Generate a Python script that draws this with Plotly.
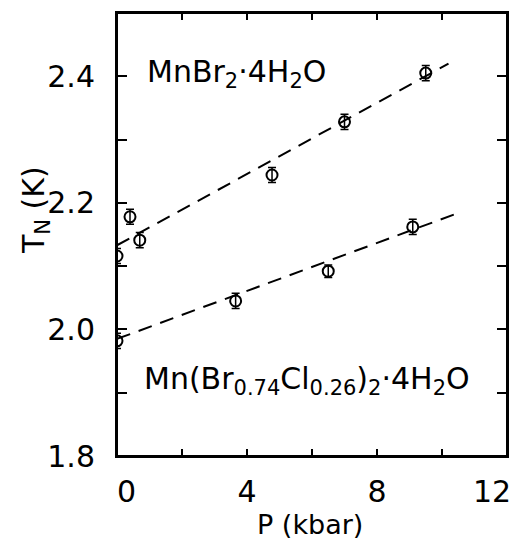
import plotly.graph_objects as go

# Data
p_mnbr = [0.0, 0.4, 0.7, 4.77, 7.0, 9.5]
t_mnbr = [2.116, 2.178, 2.141, 2.244, 2.328, 2.405]
err_mnbr = [0.012, 0.012, 0.012, 0.012, 0.012, 0.012]

p_mix = [0.0, 3.65, 6.5, 9.1]
t_mix = [1.982, 2.045, 2.092, 2.162]
err_mix = [0.012, 0.012, 0.010, 0.012]

fit_mnbr_p = [0.0, 10.2]
fit_mnbr_t = [2.133, 2.420]
fit_mix_p = [0.0, 10.55]
fit_mix_t = [1.985, 2.185]

NB = "\u00a0"
x_tickvals = [0, 4, 8, 12]
x_ticktext = [NB * 2 + "0", "4", "8", "12"]
y_tickvals = [1.8, 2.0, 2.2, 2.4]
y_ticktext = ["1.8", "2.0", "2.2", "2.4"]

label_mnbr = "MnBr<sub>2</sub>·4H<sub>2</sub>O"
label_mix = "Mn(Br<sub>0.74</sub>Cl<sub>0.26</sub>)<sub>2</sub>·4H<sub>2</sub>O"
y_title = "T<sub>N</sub> (K)"
x_title = "P (kbar)"

FONT = "DejaVu Sans"
W, H = 515, 542
L, R, T, B = 117, 8, 13, 86
PW, PH = W - L - R, H - T - B

fig = go.Figure()

for fp, ft in [(fit_mnbr_p, fit_mnbr_t), (fit_mix_p, fit_mix_t)]:
    fig.add_trace(go.Scatter(x=fp, y=ft, mode="lines",
                             line=dict(color="black", width=2, dash="14px,9px"),
                             showlegend=False, hoverinfo="skip"))

for px, ty, er in [(p_mnbr, t_mnbr, err_mnbr), (p_mix, t_mix, err_mix)]:
    fig.add_trace(go.Scatter(x=px, y=ty, mode="markers",
                             marker=dict(symbol="circle-open", size=11, color="black",
                                         line=dict(width=2, color="black")),
                             error_y=dict(type="data", array=er, visible=True,
                                          color="black", thickness=1.5, width=4),
                             showlegend=False))

fig.add_annotation(x=0.86, y=2.405, xref="x", yref="y", text=label_mnbr,
                   showarrow=False, xanchor="left", yanchor="middle",
                   font=dict(family=FONT, size=30, color="black"))
fig.add_annotation(x=0.78, y=1.92, xref="x", yref="y", text=label_mix,
                   showarrow=False, xanchor="left", yanchor="middle",
                   font=dict(family=FONT, size=30, color="black"))

fig.add_annotation(x=(35 - L) / PW, y=(H - B - 210) / PH, xref="paper", yref="paper",
                   text=y_title, showarrow=False, textangle=-90,
                   xanchor="center", yanchor="middle",
                   font=dict(family=FONT, size=30, color="black"))
fig.add_annotation(x=(310 - L) / PW, y=(H - B - 524) / PH, xref="paper", yref="paper",
                   text=x_title, showarrow=False, xanchor="center", yanchor="middle",
                   font=dict(family=FONT, size=27, color="black"))

# last x tick label sits just inside the right edge (as in the original lettering)
fig.add_annotation(x=x_tickvals[-1], y=0, xref="x", yref="paper", text=x_ticktext[-1],
                   showarrow=False, xanchor="right", yanchor="middle",
                   xshift=6, yshift=-35,
                   font=dict(family=FONT, size=30, color="black"))

axis_common = dict(showline=True, linecolor="black", linewidth=2, mirror="allticks",
                   ticks="inside", tickcolor="black", tickwidth=2, showgrid=False,
                   zeroline=False, automargin=False,
                   tickfont=dict(family=FONT, size=30, color="black"))

fig.update_xaxes(range=[0, 12], tickmode="array", tickvals=x_tickvals[:-1],
                 ticktext=x_ticktext[:-1], ticklen=7, ticklabelstandoff=8,
                 minor=dict(tickmode="linear", tick0=0, dtick=2, ticks="inside", ticklen=7,
                            tickcolor="black", tickwidth=2, showgrid=False),
                 **axis_common)
fig.update_yaxes(range=[1.8, 2.5], tickmode="array", tickvals=y_tickvals, ticktext=y_ticktext,
                 ticklen=10, ticklabelstandoff=14,
                 minor=dict(tickmode="linear", tick0=1.8, dtick=0.1, ticks="inside", ticklen=10,
                            tickcolor="black", tickwidth=2, showgrid=False),
                 **axis_common)

fig.add_shape(type="rect", xref="paper", yref="paper", x0=0, x1=1, y0=0, y1=1,
              line=dict(color="black", width=2), layer="above")

fig.update_layout(width=W, height=H, margin=dict(l=L, r=R, t=T, b=B),
                  plot_bgcolor="white", paper_bgcolor="white",
                  font=dict(family=FONT, color="black"))

fig.write_html("out.html", config={"displayModeBar": False},
               post_script="document.body.style.margin='0';document.body.style.overflow='hidden';")
